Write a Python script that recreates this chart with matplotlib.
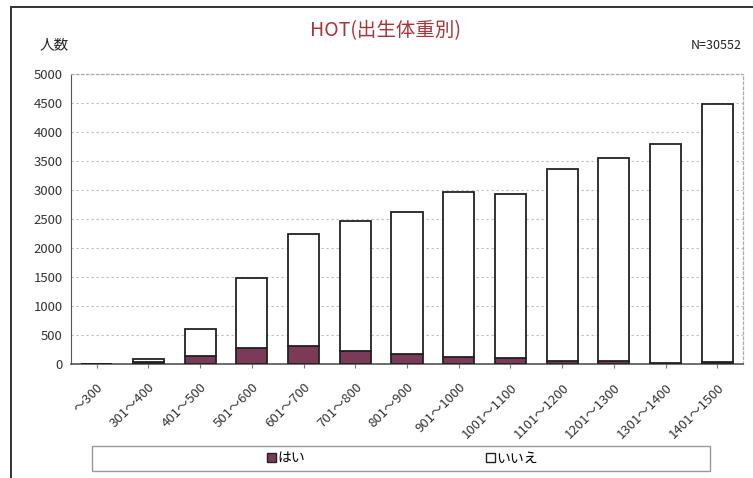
import matplotlib
matplotlib.use("Agg")
import matplotlib.pyplot as plt
from matplotlib.patches import Patch, Rectangle

plt.rcParams['font.family'] = ['Noto Sans CJK JP', 'DejaVu Sans']

categories = ["～300", "301～400", "401～500", "501～600", "601～700", "701～800",
              "801～900", "901～1000", "1001～1100", "1101～1200", "1201～1300",
              "1301～1400", "1401～1500"]
totals = [10, 90, 610, 1490, 2240, 2470, 2630, 2970, 2940, 3370, 3560, 3790, 4480]
yes_counts = [5, 30, 140, 280, 310, 230, 170, 130, 100, 60, 50, 25, 45]
no_counts = [t - y for t, y in zip(totals, yes_counts)]
yticks = list(range(0, 5001, 500))

yes_color = "#7b3a58"
edge = "#222222"

fig = plt.figure(figsize=(7.53, 4.78), dpi=100)
ax = fig.add_axes([0.094, 0.238, 0.893, 0.607])

x = list(range(len(categories)))
ax.bar(x, yes_counts, width=0.6, color=yes_color, edgecolor=edge, linewidth=1.3, zorder=3)
ax.bar(x, no_counts, bottom=yes_counts, width=0.6, color="white", edgecolor=edge,
       linewidth=1.3, zorder=3)

ax.set_xlim(-0.5, len(categories) - 0.5)
ax.set_ylim(0, 5000)
ax.set_yticks(yticks)
ax.tick_params(axis='y', length=0, labelsize=9.5, colors="#333333", pad=6)
ax.set_xticks(x)
ax.set_xticklabels(categories, rotation=45, ha='right', rotation_mode='anchor',
                   fontsize=9.5, color="#333333")
ax.tick_params(axis='x', length=3, color="#777777", pad=9)
ax.yaxis.grid(True, linestyle=(0, (2, 2.5)), color="#bdbdbd", linewidth=0.8, zorder=0)

for side in ("top", "right"):
    ax.spines[side].set_linestyle((0, (2, 2)))
    ax.spines[side].set_color("#aaaaaa")
    ax.spines[side].set_linewidth(0.9)
ax.spines["left"].set_color("#555555")
ax.spines["left"].set_linestyle((0, (2, 1)))
ax.spines["bottom"].set_color("#555555")
ax.spines["bottom"].set_linewidth(1.2)

fig.text(0.512, 0.935, "HOT(出生体重別)", ha='center', va='center',
         fontsize=14, color="#a8343a")
fig.text(0.052, 0.905, "人数", ha='left', va='center', fontsize=10.5, color="#222222")
fig.text(0.985, 0.905, "N=30552", ha='right', va='center', fontsize=9, color="#222222")

# legend box drawn separately so it can be wider than its entries
fig.patches.append(Rectangle((0.122, 0.015), 0.821, 0.052, transform=fig.transFigure,
                             fill=False, edgecolor="#999999", linewidth=1.0))
handles = [Patch(facecolor=yes_color, edgecolor=edge, linewidth=1.0),
           Patch(facecolor="white", edgecolor=edge, linewidth=1.0)]
fig.legend(handles, ["はい", "いいえ"], ncol=2,
           bbox_to_anchor=(0.535, 0.041), loc='center',
           frameon=False, fontsize=10,
           handlelength=0.6, handleheight=0.6, handletextpad=0.15,
           columnspacing=13, borderpad=0.0)

fig.patches.append(Rectangle((0.015, -0.05), 1.2, 1.035, transform=fig.transFigure,
                             fill=False, edgecolor="#333333", linewidth=1.4))

fig.savefig("out.png", dpi=100)
